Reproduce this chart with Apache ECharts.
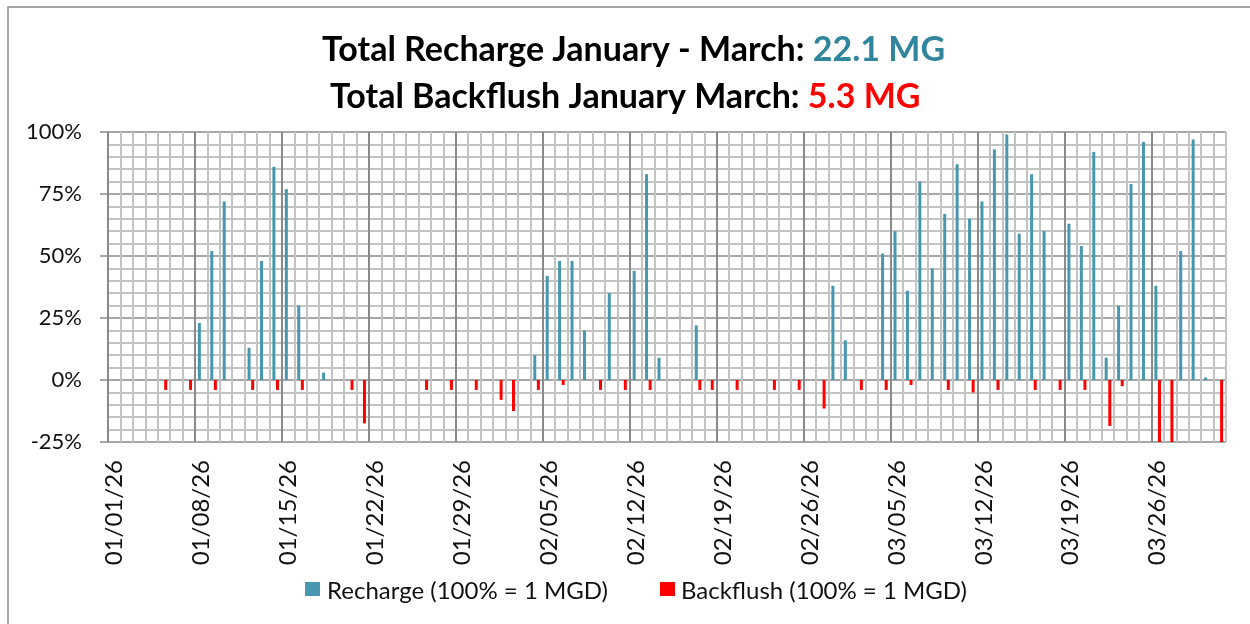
<!DOCTYPE html>
<html>
<head>
<meta charset="utf-8">
<script src="https://cdn.jsdelivr.net/npm/echarts@6/dist/echarts.min.js"></script>
<style>
  html, body { margin: 0; padding: 0; background: #fff; }
  #chart { width: 1250px; height: 624px; }
</style>
</head>
<body>
<div id="chart"></div>
<script>
// one category per day, 01/01/26 .. 03/31/26
const dayCount = 90
const days = []
for (let i = 0; i < dayCount; i++) {
  const d = new Date(2026, 0, 1 + i)
  const mm = String(d.getMonth() + 1).padStart(2, '0')
  const dd = String(d.getDate()).padStart(2, '0')
  days.push(mm + '/' + dd + '/26')
}

// daily recharge, % of 1 MGD (null = none that day)
const rechargePct = [
  null, null, null, null, null, null, null, 23, 52, 72,
  null, 13, 48, 86, 77, 30, null, 3, null, null,
  null, null, null, null, null, null, null, null, null, null,
  null, null, null, null, 10, 42, 48, 48, 20, null,
  35, null, 44, 83, 9, null, null, 22, null, null,
  null, null, null, null, null, null, null, null, 38, 16,
  null, null, 51, 60, 36, 80, 45, 67, 87, 65,
  72, 93, 99, 59, 83, 60, null, 63, 54, 92,
  9, 30, 79, 96, 38, null, 52, 97, 1, null
]

// daily backflush, % of 1 MGD (negative, drawn below zero)
const backflushPct = [
  null, null, null, null, -4, null, -4, null, -4, null,
  null, -4, null, -4, null, -4, null, null, null, -4,
  -17.5, null, null, null, null, -4, null, -4, null, -4,
  null, -8, -12.5, null, -4, null, -2, null, null, -4,
  null, -4, null, -4, null, null, null, -4, -4, null,
  -4, null, null, -4, null, -4, null, -11.5, null, null,
  -4, null, -4, null, -2, null, null, -4, null, -5,
  null, -4, null, null, -4, null, -4, null, -4, null,
  -18.5, -2.5, null, null, -30, -30, null, null, null, -30
]

const seriesNames = ['Recharge (100% = 1 MGD)', 'Backflush (100% = 1 MGD)']
const totalRecharge = '22.1 MG'
const totalBackflush = '5.3 MG'

const teal = '#4798AE'
const red = '#FF0000'
const font = 'Lato'

const chart = echarts.init(document.getElementById('chart'))

// vertical grid: dark line every 7th day, light lines between
const dayLineColors = ['#8a8a8a', '#c3c3c3', '#c3c3c3', '#c3c3c3', '#c3c3c3', '#c3c3c3', '#c3c3c3']

const titleRich = {
  a: { fontSize: 34, fontWeight: 'bold', fontFamily: font, color: '#000' },
  b: { fontSize: 34, fontWeight: 'bold', fontFamily: font, color: '#31859C' },
  c: { fontSize: 34, fontWeight: 'bold', fontFamily: font, color: red }
}

chart.setOption({
  animation: false,
  backgroundColor: '#fff',
  title: [
    {
      text: '{a|Total Recharge January - March: }{b|' + totalRecharge + '}',
      left: 317,
      top: 28,
      textStyle: { rich: titleRich }
    },
    {
      text: '{a|Total Backflush January March: }{c|' + totalBackflush + '}',
      left: 325,
      top: 75,
      textStyle: { rich: titleRich }
    }
  ],
  legend: {
    data: seriesNames,
    icon: 'none',
    left: 302,
    top: 574,
    itemWidth: 15,
    itemHeight: 14,
    itemGap: 53,
    textStyle: { fontSize: 24, fontFamily: font, color: '#111' }
  },
  graphic: [
    {
      type: 'rect',
      shape: { x: 8, y: 7, width: 1300, height: 700 },
      style: { fill: 'none', stroke: '#8a8a8a', lineWidth: 1.5 },
      silent: true
    },
    // legend swatches
    { type: 'rect', left: 305, top: 582, z: 100, shape: { width: 15, height: 14 }, style: { fill: teal }, silent: true },
    { type: 'rect', left: 660, top: 582, z: 100, shape: { width: 15, height: 14 }, style: { fill: red }, silent: true }
  ],
  grid: { left: 108, right: 24, top: 132, bottom: 182 },
  xAxis: {
    type: 'category',
    data: days,
    boundaryGap: true,
    axisLine: { show: false, onZero: false },
    axisTick: { show: false, interval: 0 },
    axisLabel: {
      interval: 6,
      rotate: 90,
      margin: 18,
      fontSize: 24,
      fontFamily: font,
      color: '#111'
    },
    splitLine: {
      show: true,
      interval: 0,
      lineStyle: { color: dayLineColors, width: 2 }
    }
  },
  yAxis: {
    type: 'value',
    min: -25,
    max: 100,
    interval: 25,
    axisLine: { show: true, lineStyle: { color: '#8a8a8a', width: 1.5 } },
    axisTick: { show: true, length: 8, lineStyle: { color: '#8a8a8a', width: 1.5 } },
    axisLabel: {
      formatter: '{value}%',
      margin: 26,
      fontSize: 22,
      fontFamily: font,
      color: '#111'
    },
    splitLine: { show: true, lineStyle: { color: '#8a8a8a', width: 1.5 } },
    minorTick: { show: false, splitNumber: 5 },
    minorSplitLine: { show: true, lineStyle: { color: '#c3c3c3', width: 2 } }
  },
  series: [
    {
      name: seriesNames[0],
      type: 'bar',
      data: rechargePct,
      barWidth: 3,
      barGap: '20%',
      itemStyle: { color: teal }
    },
    {
      name: seriesNames[1],
      type: 'bar',
      data: backflushPct,
      barWidth: 3,
      itemStyle: { color: red }
    }
  ]
})
</script>
</body>
</html>
